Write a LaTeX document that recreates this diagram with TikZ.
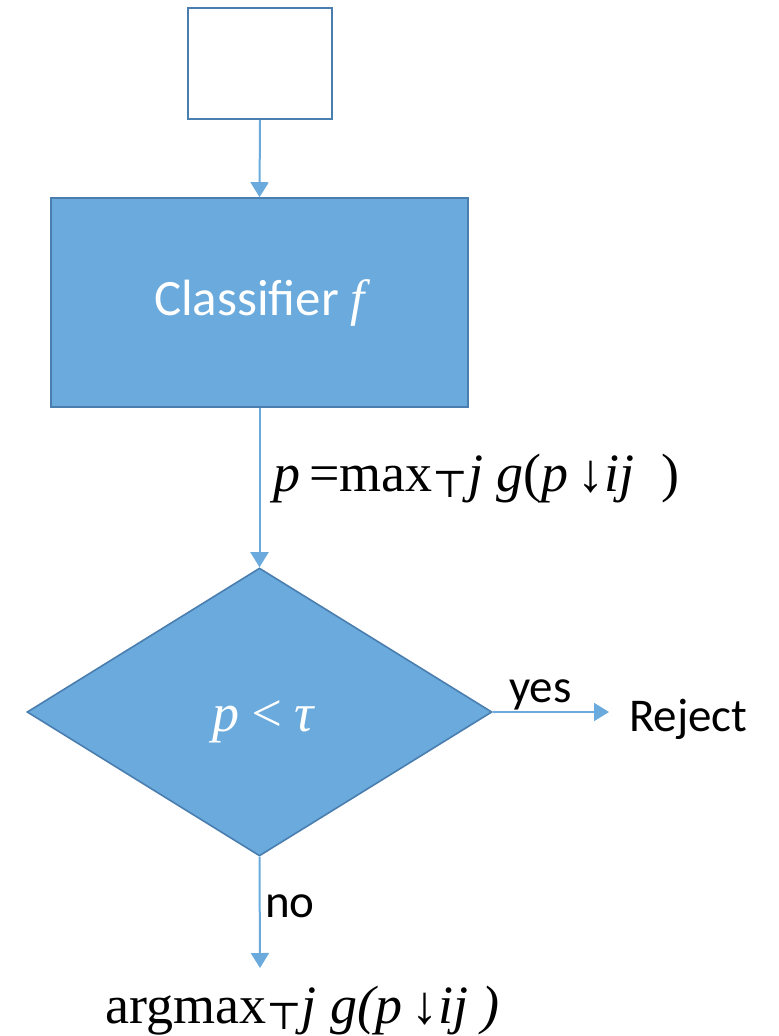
\documentclass[tikz,border=0pt]{standalone}
\usepackage{fontspec}
\setmainfont{Carlito}
\newfontfamily\mathserif{Liberation Serif}
\newfontfamily\symserif{DejaVu Serif}
\usetikzlibrary{shapes.geometric,arrows.meta}
\definecolor{boxfill}{HTML}{6AAADC}
\definecolor{boxedge}{HTML}{4A7EAE}
\definecolor{linkblue}{HTML}{6AAADC}
\newcommand{\mtop}{\raisebox{-0.12em}{\symserif\fontsize{38}{38}\selectfont ⊤}}
\tikzset{
  flow/.style={draw=linkblue, line width=2pt, -{Triangle[length=15pt,width=18pt]}},
  plainbox/.style={draw=boxedge, line width=2.4pt, fill=white, inner sep=0pt},
  procbox/.style={draw=boxedge, line width=1.6pt, fill=boxfill, inner sep=0pt},
  decide/.style={diamond, draw=boxedge, line width=1.6pt, fill=boxfill, inner sep=0pt},
  lbl/.style={inner sep=0pt, font=\fontsize{47}{54}\selectfont},
  formula/.style={inner sep=0pt, font=\mathserif\fontsize{54}{60}\selectfont}
}
\begin{document}
\begin{tikzpicture}[x=1pt,y=-1pt]
\useasboundingbox (0,0) rectangle (779,1036);

% input box and classifier
\node[plainbox, minimum width=144pt, minimum height=111pt] (input) at (260,63.5) {};
\node[procbox, minimum width=417pt, minimum height=209pt, text=white,
      font=\fontsize{51}{58}\selectfont] (clf) at (259.5,302.5)
      {Classifier \mathserif\itshape f};

% threshold test
\node[decide, minimum width=465pt, minimum height=288pt, aspect=1.615] (test) at (259.5,712) {};
\node[formula, text=white, anchor=base] (testlbl) at (263,731) {\itshape p\,<\,τ};

% outcomes
\node[lbl, anchor=base west] (reject) at (629,731) {Reject};
\coordinate (out) at (260,968);

\draw[flow] (input.south) -- (clf.north);
\draw[flow] (clf.south) -- (test.north);
\draw[flow] (test.east) -- ([xshift=-20pt]reject.west |- test.east) coordinate (rj);
\draw[flow] (test.south) -- (out);

% edge labels
\node[formula, anchor=base west] (score) at (273,491)
  {\itshape p\upshape\,=max\mtop\itshape j g\upshape(\itshape p\,\upshape↓\itshape ij\upshape\ \ )};
\node[lbl, anchor=base west] (yes) at (509,702) {yes};
\node[lbl, anchor=base west] (no) at (265,917) {no};
\node[formula, anchor=base west] (result) at (105,1023)
  {argmax\mtop\itshape j g(p\,\upshape↓\itshape ij )};
\end{tikzpicture}
\end{document}
